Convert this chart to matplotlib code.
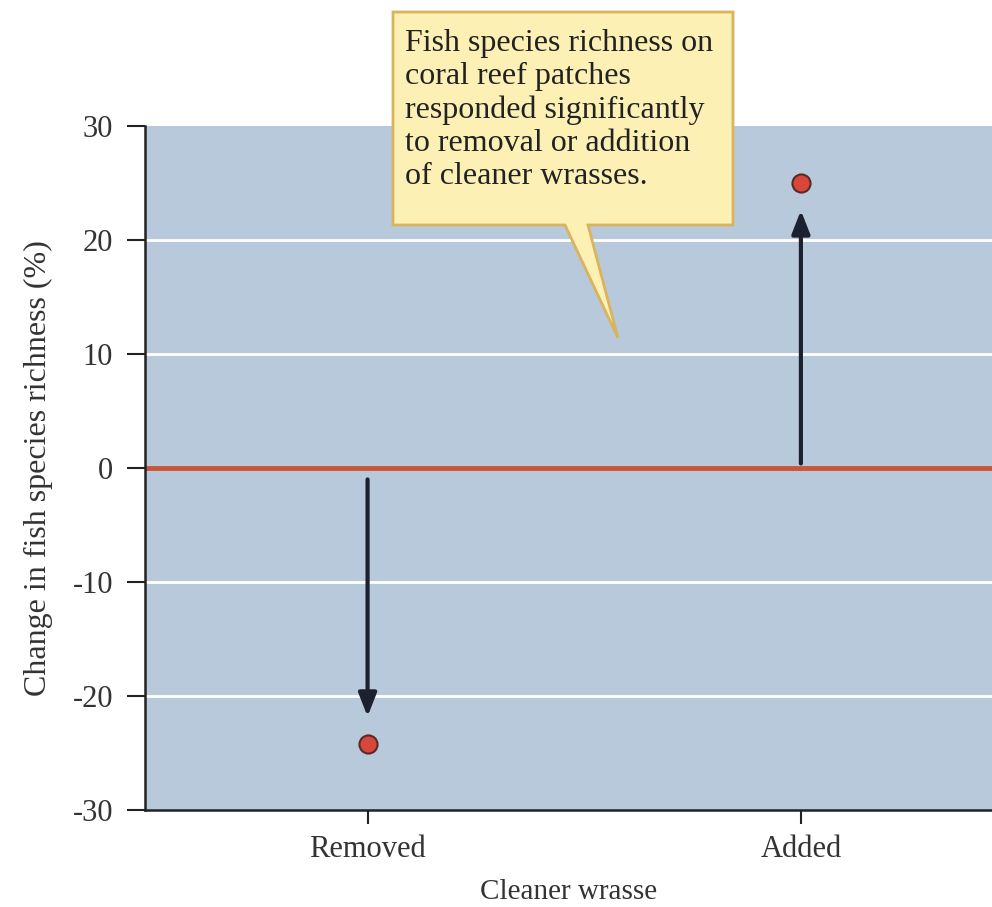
import matplotlib
matplotlib.use("Agg")
import matplotlib.pyplot as plt
from matplotlib.patches import Polygon

# data
groups = ["Removed", "Added"]
change = [-24.2, 25.0]
arrow_start = [-1.0, 0.4]
arrow_end = [-21.8, 22.6]
yticks = [-30, -20, -10, 0, 10, 20, 30]
ytick_labels = ["-30", "-20", "-10", "0", "10", "20", "30"]
note = ("Fish species richness on\ncoral reef patches\nresponded significantly\n"
        "to removal or addition\nof cleaner wrasses.")

plt.rcParams['font.family'] = ['Liberation Serif', 'DejaVu Serif']

fig = plt.figure(figsize=(9.92, 9.07), dpi=100)
ax = fig.add_axes([0.146, 0.107, 0.854, 0.754])
ax.set_facecolor("#b8c9db")

xpos = list(range(len(groups)))
ax.set_xlim(-0.514, 1.441)
ax.set_ylim(-30, 30)

for t in yticks:
    if t not in (-30, 0, 30):
        ax.axhline(t, color="white", lw=2, zorder=1)
ax.axhline(0, color="#c8573a", lw=3.5, zorder=2)

for x, s, e in zip(xpos, arrow_start, arrow_end):
    ax.annotate("", xy=(x, e), xytext=(x, s),
                arrowprops=dict(arrowstyle="-|>,head_length=1.4,head_width=0.55",
                                color="#1c2130", lw=3, shrinkA=0, shrinkB=0),
                zorder=3)

ax.scatter(xpos, change, s=170, color="#d9463a", edgecolor="#5a2a28",
           linewidth=1.5, zorder=4)

ax.set_yticks(yticks)
ax.set_yticklabels(ytick_labels)
ax.set_xticks(xpos)
ax.set_xticklabels(groups)
ax.tick_params(axis="y", length=13, width=1.5, labelsize=22, pad=10,
               colors="#222222", labelcolor="#333333")
ax.tick_params(axis="x", length=10, width=1.5, labelsize=22, pad=8,
               colors="#222222", labelcolor="#333333")
ax.spines["top"].set_visible(False)
ax.spines["right"].set_visible(False)
ax.spines["left"].set_linewidth(1.8)
ax.spines["bottom"].set_linewidth(1.8)
ax.spines["left"].set_color("#222222")
ax.spines["bottom"].set_color("#222222")
ax.set_xlabel("Cleaner wrasse", fontsize=21, color="#333333", labelpad=11)
ax.set_ylabel("Change in fish species richness (%)", fontsize=23,
              color="#333333", labelpad=14)

# callout box with pointer (figure coordinates)
W, H = 992.0, 907.0
def fc(px, py):
    return (px / W, 1 - py / H)

box = Polygon([fc(393, 12), fc(733, 12), fc(733, 225), fc(588, 225),
               fc(618, 338), fc(565, 225), fc(393, 225)],
              closed=True, transform=fig.transFigure,
              facecolor="#fdf0b4", edgecolor="#d8b45c", lw=2, zorder=10)
fig.patches.append(box)
fig.text(405 / W, 1 - 29 / H, note, fontsize=23, color="#222222",
         va="top", ha="left", linespacing=1.19, zorder=11)

fig.savefig("out.png", dpi=100)
